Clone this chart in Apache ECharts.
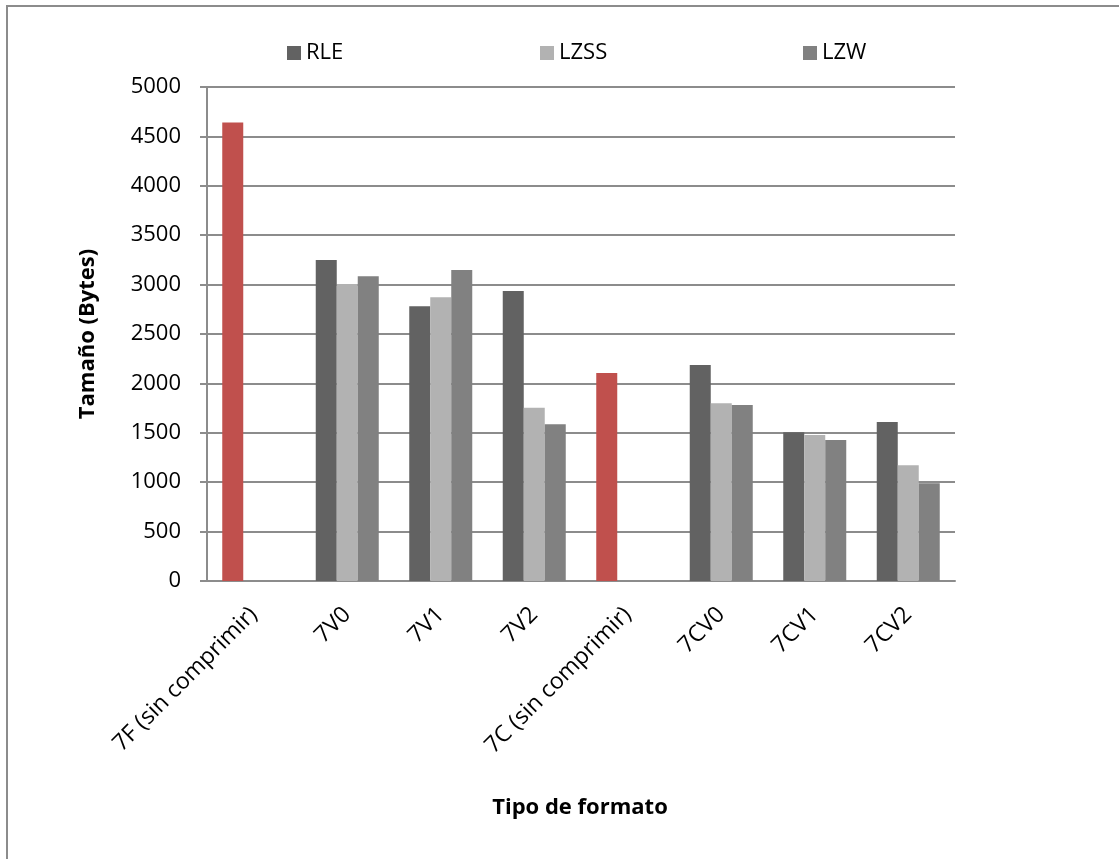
<!DOCTYPE html>
<html>
<head>
<meta charset="utf-8">
<script src="https://cdn.jsdelivr.net/npm/echarts@6/dist/echarts.min.js"></script>
<style>
html,body{margin:0;padding:0;background:#fff;}
#c{width:1119px;height:859px;}
</style>
</head>
<body>
<div id="c"></div>
<script>
const categories = ['7F (sin comprimir)', '7V0', '7V1', '7V2', '7C (sin comprimir)', '7CV0', '7CV1', '7CV2'];
const rle  = [4640, 3250, 2780, 2935, 2105, 2186, 1505, 1609];
const lzss = [null, 3005, 2872, 1754, null, 1798, 1478, 1171];
const lzw  = [null, 3085, 3148, 1586, null, 1781, 1427, 989];
const uncompressedIdx = [0, 4];
const yTicks = [0, 500, 1000, 1500, 2000, 2500, 3000, 3500, 4000, 4500, 5000];

const FONT = '"Open Sans", "Liberation Sans", sans-serif';
const RED = '#c0504d';
const COLORS = {RLE: '#626262', LZSS: '#b2b2b2', LZW: '#818181'};

const chart = echarts.init(document.getElementById('c'), null, {renderer: 'canvas'});

const rleData = rle.map((v, i) => uncompressedIdx.includes(i)
  ? {value: v, itemStyle: {color: RED}} : v);

function legend(name, left) {
  return {
    data: [name], left: left, top: 37, icon: 'rect',
    itemWidth: 14, itemHeight: 14, itemGap: 6,
    textStyle: {fontFamily: FONT, fontSize: 22, color: '#000'}
  };
}

chart.setOption({
  animation: false,
  backgroundColor: '#fff',
  legend: [legend('RLE', 282), legend('LZSS', 535), legend('LZW', 798)],
  grid: {left: 207, right: 164, top: 87, bottom: 278, containLabel: false},
  xAxis: {
    type: 'category',
    data: categories,
    axisLine: {lineStyle: {color: '#8c8c8c', width: 2}},
    axisTick: {show: false},
    axisLabel: {rotate: 45, margin: 30, fontFamily: FONT, fontSize: 23, color: '#000', interval: 0}
  },
  yAxis: {
    type: 'value',
    min: yTicks[0], max: yTicks[yTicks.length - 1], interval: 500,
    axisLine: {show: true, lineStyle: {color: '#8c8c8c', width: 2}},
    axisTick: {show: true, length: 7, lineStyle: {color: '#8c8c8c', width: 2}},
    splitLine: {lineStyle: {color: '#8c8c8c', width: 2}},
    axisLabel: {margin: 26, fontFamily: FONT, fontSize: 22, color: '#000',
                formatter: v => String(v)}
  },
  series: [
    {name: 'RLE', type: 'bar', data: rleData, barWidth: 21, barGap: '0%', itemStyle: {color: COLORS.RLE}},
    {name: 'LZSS', type: 'bar', data: lzss, barWidth: 21, barGap: '0%', itemStyle: {color: COLORS.LZSS}},
    {name: 'LZW', type: 'bar', data: lzw, barWidth: 21, barGap: '0%', itemStyle: {color: COLORS.LZW}}
  ],
  graphic: [
    {type: 'rect', silent: true, z: -1, shape: {x: 7, y: 6, width: 1300, height: 1000},
     style: {fill: 'none', stroke: '#8c8c8c', lineWidth: 2}},
    {type: 'text', x: 88, y: 334, rotation: Math.PI / 2,
     style: {text: 'Tamaño (Bytes)', fontFamily: FONT, fontWeight: 'bold', fontSize: 22,
             fill: '#000', align: 'center', verticalAlign: 'middle'}},
    {type: 'text', x: 580, y: 808,
     style: {text: 'Tipo de formato', fontFamily: FONT, fontWeight: 'bold', fontSize: 22,
             fill: '#000', align: 'center', verticalAlign: 'middle'}}
  ]
});
</script>
</body>
</html>
